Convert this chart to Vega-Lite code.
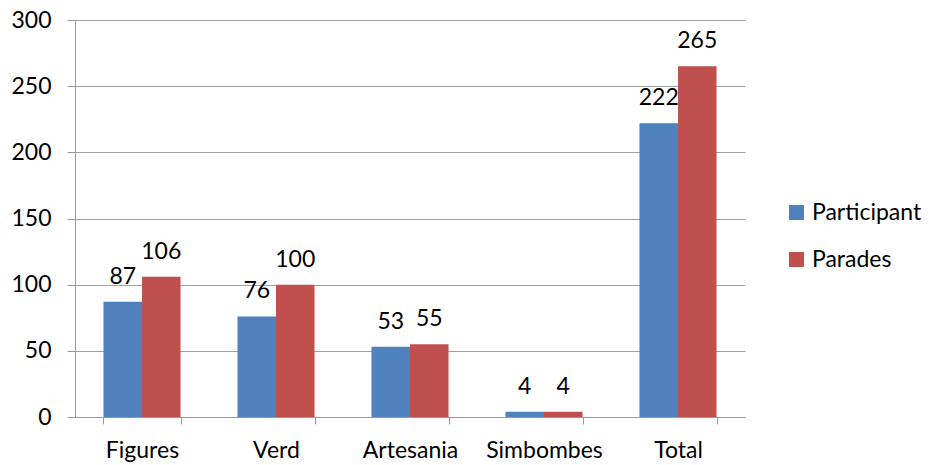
{
  "$schema": "https://vega.github.io/schema/vega-lite/v6.json",
  "autosize": {"type": "none"},
  "width": 670,
  "height": 397,
  "padding": {"left": 75, "top": 20, "right": 184, "bottom": 48},
  "background": "white",
  "config": {
    "font": "Lato",
    "view": {"stroke": null},
    "axis": {"labelFont": "Lato", "labelFontSize": 23, "labelColor": "#000000"}
  },
  "data": {
    "values": [
      {"category": "Figures", "series": "Participant", "value": 87},
      {"category": "Figures", "series": "Parades", "value": 106},
      {"category": "Verd", "series": "Participant", "value": 76},
      {"category": "Verd", "series": "Parades", "value": 100},
      {"category": "Artesania", "series": "Participant", "value": 53},
      {"category": "Artesania", "series": "Parades", "value": 55},
      {"category": "Simbombes", "series": "Participant", "value": 4},
      {"category": "Simbombes", "series": "Parades", "value": 4},
      {"category": "Total", "series": "Participant", "value": 222},
      {"category": "Total", "series": "Parades", "value": 265}
    ]
  },
  "encoding": {
    "x": {
      "field": "category",
      "type": "nominal",
      "sort": ["Figures", "Verd", "Artesania", "Simbombes", "Total"],
      "scale": {"paddingInner": 0.425, "paddingOuter": 0.2125},
      "axis": {
        "title": null,
        "labelAngle": 0,
        "tickBand": "extent",
        "domainColor": "#999999",
        "tickColor": "#999999",
        "tickSize": 7,
        "labelPadding": 15,
        "grid": false
      }
    },
    "xOffset": {
      "field": "series",
      "type": "nominal",
      "sort": ["Participant", "Parades"],
      "scale": {"paddingInner": 0, "paddingOuter": 0}
    },
    "y": {
      "field": "value",
      "type": "quantitative",
      "scale": {"domain": [0, 300], "nice": false},
      "axis": {
        "title": null,
        "values": [0, 50, 100, 150, 200, 250, 300],
        "domainColor": "#999999",
        "tickColor": "#999999",
        "gridColor": "#a0a0a0",
        "gridOpacity": 1,
        "grid": true,
        "tickSize": 8,
        "labelPadding": 16
      }
    }
  },
  "layer": [
    {
      "mark": {"type": "bar"},
      "encoding": {
        "color": {
          "field": "series",
          "type": "nominal",
          "sort": ["Participant", "Parades"],
          "scale": {"domain": ["Participant", "Parades"], "range": ["#4F81BD", "#C0504D"]},
          "legend": {
            "title": null,
            "orient": "none",
            "legendX": 710,
            "legendY": 181,
            "symbolType": "square",
            "symbolSize": 225,
            "symbolStrokeWidth": 0,
            "labelFontSize": 23,
            "labelFont": "Lato",
            "labelColor": "#000000",
            "labelOffset": 4,
            "rowPadding": 23,
            "padding": 0
          }
        }
      }
    },
    {
      "mark": {"type": "text", "baseline": "alphabetic", "dy": -18, "fontSize": 23, "font": "Lato", "color": "#000000"},
      "encoding": {
        "text": {"field": "value", "type": "quantitative"}
      }
    }
  ]
}
